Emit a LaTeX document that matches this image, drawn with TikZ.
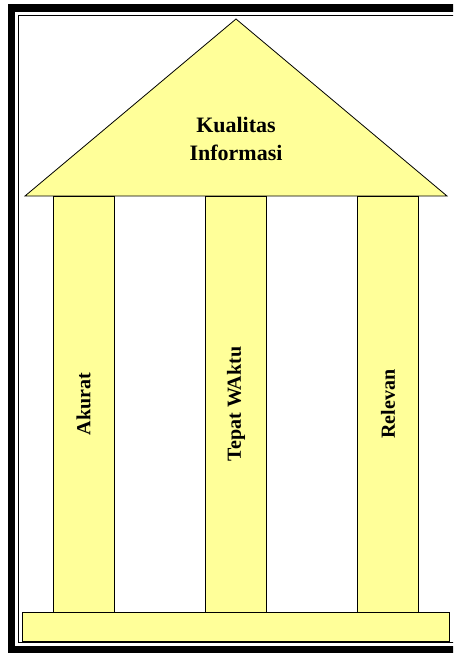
\documentclass[tikz,border=0pt]{standalone}
\usepackage{fontspec}
\setmainfont{Liberation Serif}
\usepackage{xcolor}
\definecolor{pale}{RGB}{255,255,153}
\tikzset{
  part/.style    = { draw=black, line width=0.8pt, fill=pale },
  pillar/.style  = { part, rectangle, inner sep=0pt, rotate=90,
                     minimum width=416pt, minimum height=61pt,
                     font=\fontsize{20}{24}\selectfont\bfseries },
  title/.style   = { align=center, font=\fontsize{22}{28}\selectfont\bfseries },
  frame/.style   = { line width=7.5pt },
  inframe/.style = { line width=1.5pt }
}

\begin{document}
\begin{tikzpicture}[x=1pt,y=-1pt]
  \useasboundingbox (0,0) rectangle (453,653);
  \clip (0,0) rectangle (453,653);
  % Draw page frame
  \draw[frame]   (11.5,8) rectangle (470,649.5);
  \draw[inframe] (18.5,15.5) rectangle (460,642.5);
  % Draw roof
  \draw[part] (25,196) -- (236,19) -- (447,196) -- cycle;
  \node[title] (roof) at (236,139) {Kualitas\\Informasi};
  % Draw pillars
  \node[pillar] (akurat)  at (83.5,404) {Akurat};
  \node[pillar] (tepat)   at (236,404)  {Tepat WAktu};
  \node[pillar] (relevan) at (388,404)  {Relevan};
  % Draw base
  \node[part, rectangle, inner sep=0pt, minimum width=427pt, minimum height=29pt]
    (base) at (235.5,626.5) {};
\end{tikzpicture}
\end{document}
